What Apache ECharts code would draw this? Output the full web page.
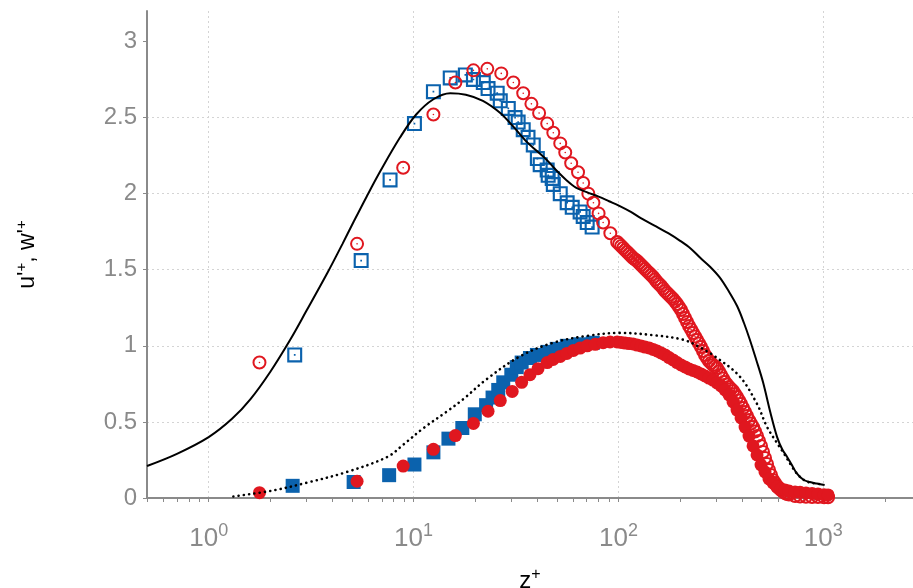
<!DOCTYPE html>
<html>
<head>
<meta charset="utf-8">
<script src="https://cdn.jsdelivr.net/npm/echarts@6/dist/echarts.min.js"></script>
<style>
html, body { margin: 0; padding: 0; background: #fff; }
#chart { width: 913px; height: 588px; }
</style>
</head>
<body>
<div id="chart"></div>
<script>
// z+ , value pairs
var uOpenSquare = [[2.63, 0.94], [5.55, 1.56], [7.68, 2.09], [10.1, 2.46], [12.5, 2.67], [15.1, 2.76],
    [17.9, 2.78], [19.6, 2.75], [21.9, 2.73], [23.1, 2.69], [25.6, 2.66], [26.5, 2.61], [29.0, 2.56],
    [31.3, 2.50], [32.4, 2.47], [34.3, 2.42], [36.2, 2.37], [38.4, 2.32], [40.2, 2.23], [41.5, 2.19],
    [44.9, 2.155], [45.4, 2.12], [47.5, 2.10], [48.1, 2.06], [52, 2.00], [56.2, 1.94], [59.5, 1.91],
    [65, 1.88], [67.3, 1.85], [70.4, 1.81], [74.4, 1.78]];

var uOpenCircle = [[1.77, 0.89], [5.3, 1.67], [8.9, 2.17], [12.5, 2.52], [16, 2.73], [19.6, 2.81],
    [22.9, 2.82], [26.8, 2.79], [30.7, 2.73], [34.3, 2.66], [37.6, 2.59], [41, 2.53], [44.9, 2.46],
    [48.1, 2.40], [52, 2.33], [55, 2.27], [58.8, 2.20], [63.5, 2.14], [67.3, 2.07], [71.3, 2.00],
    [75.5, 1.94], [80, 1.87], [84.2, 1.81], [91.3, 1.74],
    [98.55, 1.682], [100.8, 1.669], [103.1, 1.656], [105.4, 1.643], [107.8, 1.629], [110.3, 1.616],
    [112.8, 1.603], [115.3, 1.59], [117.9, 1.577], [120.6, 1.567], [123.4, 1.557], [126.2, 1.544],
    [129.0, 1.531], [132.0, 1.518], [134.9, 1.505], [138.0, 1.491], [141.2, 1.478], [144.4, 1.465],
    [147.7, 1.452], [151.0, 1.436], [154.4, 1.419], [157.9, 1.406], [161.5, 1.393], [165.2, 1.377],
    [168.9, 1.36], [172.8, 1.347], [176.7, 1.334], [180.7, 1.321], [184.8, 1.308], [189.0, 1.291],
    [193.3, 1.275], [197.7, 1.255], [202.2, 1.235], [206.8, 1.209], [211.5, 1.183], [216.3, 1.156],
    [221.2, 1.13], [226.2, 1.107], [231.3, 1.084], [236.6, 1.061], [242.0, 1.038], [247.4, 1.015],
    [253.1, 0.992], [258.8, 0.966], [264.7, 0.94], [270.7, 0.92], [276.8, 0.90], [283.1, 0.887],
    [289.6, 0.874], [296.1, 0.864], [302.8, 0.854], [309.7, 0.831], [316.8, 0.808], [323.9, 0.785],
    [331.3, 0.762], [338.8, 0.746], [346.7, 0.729], [354.6, 0.716], [362.7, 0.703], [370.9, 0.683],
    [379.3, 0.664], [387.9, 0.641], [396.8, 0.618], [405.8, 0.591], [415.0, 0.565], [424.4, 0.539],
    [434.0, 0.512], [443.9, 0.489], [454.0, 0.466], [464.3, 0.437], [474.8, 0.407], [485.6, 0.375],
    [496.6, 0.342], [507.9, 0.302], [519.4, 0.263], [531.2, 0.223], [543.3, 0.184], [555.6, 0.151],
    [568.2, 0.118], [581.1, 0.099], [594.3, 0.079], [607.8, 0.066], [621.6, 0.053], [635.7, 0.043],
    [650.2, 0.033], [664.9, 0.026], [680.0, 0.023], [728, 0.013], [770, 0.01], [823, 0.008],
    [881, 0.007], [942, 0.006], [1008, 0.005], [1055, 0.005]];

var wFilledSquare = [[2.57, 0.08], [5.1, 0.105], [7.6, 0.15], [10.1, 0.22], [12.5, 0.30], [14.8, 0.39],
    [17.3, 0.46], [19.9, 0.55], [22.6, 0.61], [24.3, 0.66], [25.9, 0.71], [27.4, 0.76], [30, 0.81],
    [31.9, 0.86], [33.7, 0.89], [37, 0.92], [40, 0.94], [45, 0.96], [50, 0.98], [56, 1.00],
    [65, 1.01], [75, 1.02]];

var wFilledCircle = [[1.77, 0.035], [5.3, 0.11], [8.9, 0.21], [12.5, 0.32], [16, 0.41], [19.6, 0.49],
    [23.1, 0.57], [26.5, 0.64], [30.3, 0.70], [33.7, 0.76], [37, 0.81], [40.5, 0.85], [44.9, 0.89],
    [48, 0.91], [52, 0.93], [56, 0.95], [60.3, 0.97], [65, 0.985], [70.4, 1.00], [77, 1.01],
    [84.2, 1.02], [91, 1.025],
    [98.55, 1.025], [103.1, 1.022], [107.8, 1.018], [112.8, 1.015], [117.9, 1.012], [123.4, 1.005],
    [129.0, 0.999], [134.9, 0.992], [141.2, 0.986], [147.7, 0.976], [154.4, 0.966], [161.5, 0.953],
    [168.9, 0.94], [176.7, 0.923], [184.8, 0.907], [193.3, 0.89], [202.2, 0.874], [211.5, 0.861],
    [221.2, 0.848], [231.3, 0.838], [242.0, 0.828], [253.1, 0.815], [264.7, 0.802], [276.8, 0.788],
    [289.6, 0.775], [302.8, 0.756], [316.8, 0.736], [331.3, 0.71], [346.7, 0.677], [362.7, 0.631],
    [379.3, 0.578], [396.8, 0.526], [415.0, 0.466], [434.0, 0.407], [454.0, 0.342], [474.8, 0.283],
    [496.6, 0.217], [519.4, 0.171], [543.3, 0.125], [568.2, 0.099], [594.3, 0.072], [621.6, 0.059],
    [650.2, 0.053], [680.0, 0.046], [728, 0.039], [770, 0.037], [823, 0.033], [881, 0.03],
    [942, 0.026], [1008, 0.022], [1055, 0.02]];

var uLine = [[0.5, 0.21], [0.7, 0.29], [1.0, 0.40], [1.3, 0.52], [1.6, 0.65], [2.0, 0.83], [2.5, 1.04],
    [3.0, 1.23], [3.8, 1.48], [4.5, 1.67], [5.1, 1.815], [5.9, 1.98], [6.9, 2.15], [8.6, 2.37],
    [10.3, 2.52], [12.5, 2.62], [15.1, 2.66], [18, 2.65], [21.8, 2.61], [26.5, 2.53], [30.7, 2.44],
    [35.7, 2.34], [40, 2.28], [44.8, 2.22], [50, 2.15], [55.6, 2.09], [62, 2.04], [70, 2.01],
    [80, 1.98], [90, 1.95], [101, 1.92], [115, 1.88], [128, 1.84], [150, 1.79], [175, 1.74],
    [200, 1.69], [225, 1.64], [250, 1.58], [280, 1.52], [312, 1.45], [345, 1.36], [380, 1.26],
    [410, 1.15], [438, 1.04], [470, 0.91], [508, 0.76], [552, 0.56], [595, 0.40], [630, 0.32],
    [666, 0.27], [700, 0.22], [744, 0.16], [800, 0.12], [859, 0.105], [930, 0.095], [1015, 0.085]];

var wLine = [[1.32, 0.01], [2.07, 0.05], [3.0, 0.10], [4.7, 0.17], [7.45, 0.27], [8.9, 0.35],
    [11.2, 0.46], [14.6, 0.57], [17.5, 0.65], [22.7, 0.78], [33, 0.93], [48, 1.02], [70, 1.065],
    [101, 1.085], [148, 1.07], [207, 1.04], [250, 0.99], [296, 0.93], [390, 0.80], [474, 0.62],
    [530, 0.47], [595, 0.36], [637, 0.30], [700, 0.21], [744, 0.16], [800, 0.12], [870, 0.10],
    [1000, 0.09]];

var xMinorTicks = [0.5, 0.6, 0.7, 0.8, 0.9, 1, 2, 3, 4, 5, 6, 7, 8, 9, 10, 20, 30, 40, 50, 60, 70, 80, 90,
    100, 200, 300, 400, 500, 600, 700, 800, 900, 1000, 2000];
var xLabels = [1, 10, 100, 1000];
var yTicks = [0, 0.5, 1, 1.5, 2, 2.5, 3];

var blue = '#0b62ad';
var red = '#e0171f';
var gray = '#8a8a8a';

// ring + centre dot, transparent inside
var ringCircle = 'path://M7,0A7,7 0 1,1 7,14A7,7 0 1,1 7,0Z M7,2A5,5 0 1,0 7,12A5,5 0 1,0 7,2Z ' +
    'M7,6.2A0.8,0.8 0 1,1 7,7.8A0.8,0.8 0 1,1 7,6.2Z';
var ringSquare = 'path://M0,0H14V14H0Z M2,2V12H12V2Z M6.2,6.2H7.8V7.8H6.2Z';

function scatter(data, symbol, size, color, z) {
    return {
        type: 'scatter',
        data: data,
        symbol: symbol,
        symbolSize: size,
        itemStyle: { color: color, opacity: 1 },
        z: z,
        silent: true
    };
}

function supLabel(v) {
    var e = Math.round(Math.log(v) / Math.LN10);
    return '{b|10}{s|' + e + '}';
}

var option = {
    animation: false,
    backgroundColor: '#fff',
    grid: { left: 147, right: 0, top: 11, bottom: 90, outerBoundsMode: 'none', containLabel: false },
    xAxis: [
        {
            type: 'log',
            logBase: 10,
            min: 0.5,
            max: 2740,
            name: '{b|z}{s|+}',
            nameLocation: 'middle',
            nameGap: 69,
            nameTextStyle: {
                rich: {
                    b: { fontSize: 24, color: '#000', fontFamily: 'Liberation Sans' },
                    s: { fontSize: 16, color: '#000', fontFamily: 'Liberation Sans', padding: [0, 0, 12, 0] }
                }
            },
            axisLine: { show: true, onZero: false, lineStyle: { color: gray, width: 2 } },
            axisTick: { show: true, inside: false, length: 4, customValues: xMinorTicks, lineStyle: { color: gray, width: 1 } },
            axisLabel: {
                customValues: xLabels,
                margin: 24,
                formatter: supLabel,
                rich: {
                    b: { fontSize: 26, color: '#8a8a8a', fontFamily: 'Liberation Sans' },
                    s: { fontSize: 18, color: '#8a8a8a', fontFamily: 'Liberation Sans', padding: [0, 0, 16, 0] }
                }
            },
            splitLine: { show: false }
        },
        {
            type: 'log',
            logBase: 10,
            min: 0.5,
            max: 2740,
            position: 'bottom',
            axisLine: { show: false },
            axisTick: { show: false },
            axisLabel: { show: false },
            splitLine: {
                show: true,
                showMinLine: false,
                showMaxLine: false,
                lineStyle: { color: '#d4d4d4', type: [2, 3], width: 1 }
            }
        }
    ],
    yAxis: {
        type: 'value',
        min: 0,
        max: 3.2,
        interval: 0.5,
        name: "{b|u'}{s|+}{b|, w'}{s|+}",
        nameLocation: 'middle',
        nameGap: 106,
        nameTextStyle: {
            rich: {
                b: { fontSize: 23, color: '#000', fontFamily: 'Liberation Sans' },
                s: { fontSize: 15, color: '#000', fontFamily: 'Liberation Sans', padding: [0, 0, 12, 0] }
            }
        },
        axisLine: { show: true, lineStyle: { color: gray, width: 2 } },
        axisTick: { show: true, length: 4, customValues: yTicks, lineStyle: { color: gray, width: 1 } },
        axisLabel: {
            customValues: yTicks,
            fontSize: 24,
            color: '#8a8a8a',
            fontFamily: 'Liberation Sans',
            margin: 10
        },
        splitLine: {
            show: true,
            showMinLine: false,
            showMaxLine: false,
            lineStyle: { color: '#d4d4d4', type: [2, 3], width: 1 }
        }
    },
    series: [
        scatter(uOpenSquare, ringSquare, 15, blue, 2),
        scatter(uOpenCircle, ringCircle, 14, red, 3),
        scatter(wFilledSquare, 'rect', 14, blue, 4),
        scatter(wFilledCircle, 'circle', 13, red, 5),
        {
            type: 'line',
            data: uLine,
            smooth: 0.35,
            showSymbol: false,
            lineStyle: { color: '#000', width: 2 },
            z: 6,
            silent: true
        },
        {
            type: 'line',
            data: wLine,
            smooth: 0.35,
            showSymbol: false,
            lineStyle: { color: '#000', width: 2.6, type: [0.1, 5.2], cap: 'round' },
            z: 6,
            silent: true
        }
    ]
};

var myChart = echarts.init(document.getElementById('chart'));
myChart.setOption(option);
</script>
</body>
</html>
